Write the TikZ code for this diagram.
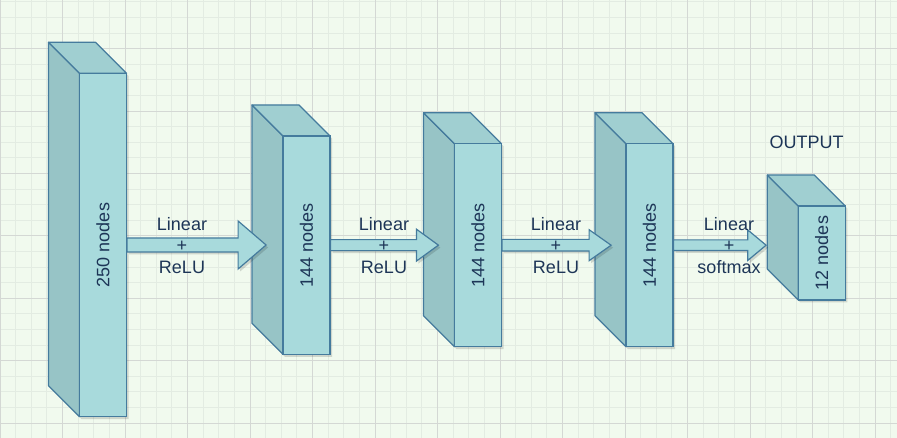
\documentclass[tikz,border=0pt]{standalone}
\usepackage{fontspec}
\setmainfont{Liberation Sans}
\usetikzlibrary{calc,positioning,shadows}
\definecolor{paperMint}{HTML}{F1FAEE}
\definecolor{gridMinor}{HTML}{E3ECE2}
\definecolor{gridMajor}{HTML}{D4D8D4}
\definecolor{cubeFill}{HTML}{A8DADC}
\definecolor{cubeTop}{RGB}{160,207,209}
\definecolor{cubeSide}{RGB}{151,196,198}
\definecolor{cubeEdge}{HTML}{457B9D}
\definecolor{inkNavy}{HTML}{1D3557}
\tikzset{
  layer front/.style={draw=cubeEdge,fill=cubeFill,line width=1.2pt,minimum width=47pt,inner sep=0pt},
  layer side/.style={draw=cubeEdge,fill=cubeSide,line width=1.2pt,line join=round},
  layer top/.style={draw=cubeEdge,fill=cubeTop,line width=1.2pt,line join=round},
  layer shade/.style={fill=cubeFill,drop shadow={fill=black,opacity=.14,shadow xshift=2pt,shadow yshift=-2.5pt}},
  layer text/.style={rotate=90,text=inkNavy,font=\fontsize{18}{21}\selectfont},
  op text/.style={align=center,text=inkNavy,font=\fontsize{18}{21.5}\selectfont,inner sep=0pt},
  flex arrow/.style={draw=cubeEdge,fill=cubeFill,line width=1.2pt,line join=miter,
    drop shadow={fill=black,opacity=.14,shadow xshift=2pt,shadow yshift=-2.5pt}}
}
% #1 source, #2 tip, #3 half shaft, #4 half head, #5 head length
\newcommand{\flexarrow}[5]{%
  \filldraw[flex arrow] let \p1=(#1), \p2=(#2) in
    (\x1,\y1+#3pt) -- (\x2-#5pt,\y1+#3pt) -- (\x2-#5pt,\y1+#4pt) -- (\x2,\y1)
    -- (\x2-#5pt,\y1-#4pt) -- (\x2-#5pt,\y1-#3pt) -- (\x1,\y1-#3pt) -- cycle;}

\begin{document}
\begin{tikzpicture}[x=1pt,y=-1pt]
  \useasboundingbox (0,0) rectangle (897,438);
  % paper and grid
  \fill[paperMint] (0,0) rectangle (897,438);
  \foreach \i in {0,...,57}
    \draw[gridMinor,line width=.8pt] ({\i*15.625},0) -- ({\i*15.625},438);
  \foreach \j in {0,...,28}
    \draw[gridMinor,line width=.8pt] (0,{1.8+\j*15.6}) -- (897,{1.8+\j*15.6});
  \foreach \i in {0,...,14}
    \draw[gridMajor,line width=1pt] ({\i*62.5},0) -- ({\i*62.5},438);
  \foreach \j in {0,...,6}
    \draw[gridMajor,line width=1pt] (0,{48.7+\j*62.4}) -- (897,{48.7+\j*62.4});

  % layers: name / left / top / bottom / text
  \foreach \nm/\xa/\ya/\yb/\txt in {l1/48.5/42.3/416.7/250 nodes,
      l2/252/105/354.3/144 nodes, l3/423.5/112.7/346.7/144 nodes,
      l4/595/112.7/346.7/144 nodes, l5/767.3/175/300/12 nodes}{
    \pgfmathsetmacro\hh{\yb-\ya-31}
    \fill[layer shade] (\xa,\ya) -- ({\xa+47},\ya) -- ({\xa+78},{\ya+31}) -- ({\xa+78},\yb)
      -- ({\xa+31},\yb) -- (\xa,{\yb-31}) -- cycle;
    \filldraw[layer side] (\xa,\ya) -- ({\xa+31},{\ya+31}) -- ({\xa+31},\yb) -- (\xa,{\yb-31}) -- cycle;
    \filldraw[layer top] (\xa,\ya) -- ({\xa+47},\ya) -- ({\xa+78},{\ya+31}) -- ({\xa+31},{\ya+31}) -- cycle;
    \node[layer front,minimum height=\hh pt,label={[layer text]center:\txt}] (\nm)
      at ({\xa+54.5},{(\ya+31+\yb)/2}) {};
  }

  \flexarrow{l1.east}{$(l2.west)+(-16.3,0)$}{7}{24}{28}
  \flexarrow{l2.east}{$(l3.west)+(-15.5,0)$}{5.5}{16}{22}
  \flexarrow{l3.east}{$(l4.west)+(-14.3,0)$}{5.8}{15.5}{22}
  \flexarrow{l4.east}{$(l5.west)+(-31.6,0)$}{5.3}{15.3}{18.4}

  \node[op text] (op1) at (182,245.5) {Linear\\+\\ReLU};
  \node[op text] (op2) at (384,245.5) {Linear\\+\\ReLU};
  \node[op text] (op3) at (556,245.5) {Linear\\+\\ReLU};
  \node[op text] (op4) at (729,245.5) {Linear\\+\\softmax};
  \node[op text] (out) at (806.5,142.5) {OUTPUT};
\end{tikzpicture}
\end{document}
